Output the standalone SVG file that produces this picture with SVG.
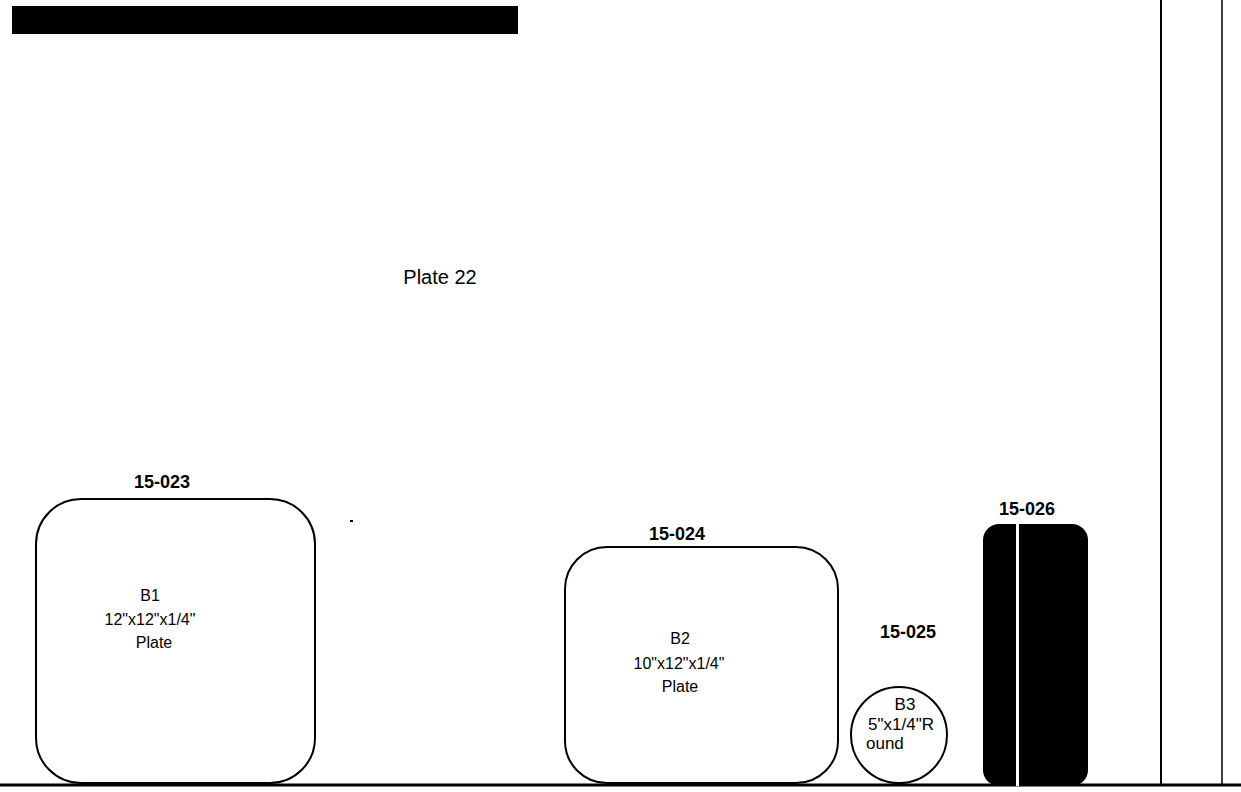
<svg xmlns="http://www.w3.org/2000/svg" width="1241" height="792" viewBox="0 0 1241 792">
<style>
.lbl{font-family:"Liberation Sans",Arial,sans-serif;font-size:18px;font-weight:bold;fill:#000;text-anchor:middle}
.txt{font-family:"Liberation Sans",Arial,sans-serif;font-size:16px;fill:#000;text-anchor:middle}
.box{fill:#fff;stroke:#000;stroke-width:2}
.rule{stroke:#000;fill:none}
</style>
<rect x="0" y="0" width="1241" height="792" fill="#fff"/>
<rect id="header-bar" x="12" y="6" width="506" height="28" fill="#000"/>
<text class="txt" x="440" y="284" style="font-size:20px">Plate 22</text>
<rect x="350" y="520" width="3" height="2" fill="#000"/>
<g id="frame">
<line class="rule" x1="1161" y1="0" x2="1161" y2="786" stroke-width="2"/>
<line class="rule" x1="1222" y1="0" x2="1222" y2="786" stroke-width="1.5"/>
<line class="rule" x1="0" y1="785" x2="1241" y2="785" stroke-width="3"/>
</g>
<g id="node-b1">
<text class="lbl" x="162" y="488">15-023</text>
<rect class="box" x="36" y="499" width="279" height="284" rx="45" ry="45"/>
<text class="txt" x="150" y="601">B1</text>
<text class="txt" x="150" y="625">12"x12"x1/4"</text>
<text class="txt" x="154" y="648">Plate</text>
</g>
<g id="node-b2">
<text class="lbl" x="677" y="540">15-024</text>
<rect class="box" x="565" y="547" width="273" height="236" rx="42" ry="42"/>
<text class="txt" x="680" y="644">B2</text>
<text class="txt" x="679" y="669">10"x12"x1/4"</text>
<text class="txt" x="680" y="692">Plate</text>
</g>
<g id="node-b3">
<text class="lbl" x="908" y="638">15-025</text>
<circle class="box" cx="899" cy="735" r="48"/>
<text class="txt" x="905" y="710" style="font-size:17px">B3</text>
<text class="txt" x="901" y="730" style="font-size:17px">5"x1/4"R</text>
<text class="txt" x="866" y="749" style="text-anchor:start;font-size:17px">ound</text>
</g>
<g id="node-b4">
<text class="lbl" x="1027" y="515">15-026</text>
<rect x="983" y="524" width="105" height="262" rx="16" ry="16" fill="#000"/>
<rect x="1016" y="524" width="3" height="262" fill="#fff"/>
</g>
<g id="connectors"></g>
</svg>
